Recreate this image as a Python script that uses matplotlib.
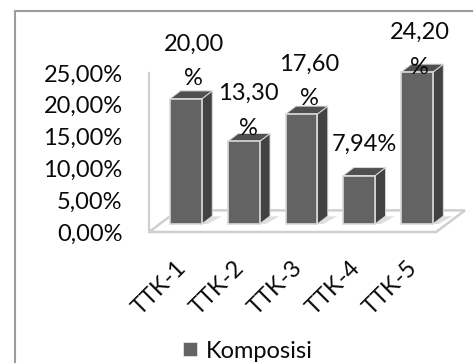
from matplotlib import pyplot as plt
from matplotlib.patches import Polygon, Rectangle
from matplotlib.lines import Line2D
from matplotlib.transforms import ScaledTranslation

categories = ['TTK-1', 'TTK-2', 'TTK-3', 'TTK-4', 'TTK-5']
komposisi = [20.00, 13.30, 17.60, 7.94, 24.20]
y_ticks = [0, 5, 10, 15, 20, 25]
series_name = 'Komposisi'

# where each value label sits relative to its bar, in points
label_offsets = [(5.5, 27), (3.5, 22), (5.5, 23.5), (3.5, 22.5), (2, 16)]

plt.rcParams['font.family'] = ['Lato', 'DejaVu Sans']
FONT = 17
W, H = 473, 363

FRONT = '#636363'
SIDE = '#424242'
TOP = '#505050'
EDGE = '#d9d9d9'
WALL = '#cfcfcf'
INK = '#0a0a0a'

# pseudo 3d depth of a bar and of the floor, in data units
BAR_W = 0.55
BAR_DX = 0.18
BAR_DY = 1.25
BASE = 1.26
LIFT = 0.94
FLOOR_DX = 0.5
FLOOR_DY = 3.4


def pct(v):
    return f'{v:.2f}%'.replace('.', ',')


def wrapped(v):
    # the narrow label stays on one line, the others break before the percent sign
    text = pct(v)
    return text if v < 10 else text.replace('%', '\n%')


fig = plt.figure(figsize=(W / 100, H / 100), dpi=100)
fig.patches.append(Rectangle((14.5 / W, -0.1), 1.1, 1.1 - 11.5 / H, transform=fig.transFigure,
                             fill=False, edgecolor='#9c9c9c', linewidth=1.5))

ax = fig.add_axes([149 / W, 1 - 232 / H, 316 / W, 159 / H])
ax.set_xlim(-0.64, 4.83)
ax.set_ylim(0, 25)
ax.patch.set_alpha(0)
for s in ax.spines.values():
    s.set_visible(False)

# floor and the left wall line
left, right = -0.64, 4.33
ax.add_patch(Polygon([(left, 0), (right, 0), (right + FLOOR_DX, FLOOR_DY), (left + FLOOR_DX, FLOOR_DY)],
                     closed=True, facecolor='white', edgecolor=WALL, linewidth=1.8, zorder=1, clip_on=False))
ax.plot([left, left], [0, 25], color=WALL, linewidth=1.6, zorder=1, clip_on=False)

x = list(range(len(categories)))
tops = [v + LIFT for v in komposisi]
heights = [t - BASE for t in tops]

for xi, t in zip(x, tops):
    r = xi + BAR_W / 2
    l = xi - BAR_W / 2
    # soft shadow on the floor
    ax.add_patch(Polygon([(r, BASE), (r + 0.17, BASE + 1.2), (r + 0.34, BASE + 1.2), (r + 0.1, BASE)],
                         closed=True, facecolor='#dedede', edgecolor='none', zorder=1.5))
    ax.add_patch(Polygon([(r, BASE), (r + BAR_DX, BASE + BAR_DY), (r + BAR_DX, t + BAR_DY), (r, t)],
                         closed=True, facecolor=SIDE, edgecolor=EDGE, linewidth=0.7, zorder=2, clip_on=False))
    ax.add_patch(Polygon([(l, t), (r, t), (r + BAR_DX, t + BAR_DY), (l + BAR_DX, t + BAR_DY)],
                         closed=True, facecolor=TOP, edgecolor=EDGE, linewidth=0.7, zorder=2, clip_on=False))

bars = ax.bar(x, heights, width=BAR_W, bottom=BASE, color=FRONT, edgecolor=EDGE, linewidth=1.2, zorder=3)
for b in bars:
    b.set_clip_on(False)

for xi, t, v, off in zip(x, tops, komposisi, label_offsets):
    ax.annotate(wrapped(v), xy=(xi, t), xytext=off, textcoords='offset points', annotation_clip=False,
                ha='center', va='center', fontsize=FONT, linespacing=1.78, color=INK, zorder=5)

ax.set_yticks(y_ticks)
ax.set_yticklabels([pct(v) for v in y_ticks], fontsize=FONT, color=INK)
ax.tick_params(axis='y', length=0, pad=19)
ax.set_xticks(x)
ax.set_xticklabels(categories, fontsize=FONT, rotation=45, ha='right', rotation_mode='anchor', color=INK)
ax.tick_params(axis='x', length=0, pad=18)

# pull the slanted names left so they end under the bar centres
shift = ScaledTranslation(-7.5 / 72, 0, fig.dpi_scale_trans)
for lab in ax.get_xticklabels():
    lab.set_transform(lab.get_transform() + shift)

handle = Line2D([], [], linestyle='none', marker='s', markersize=9.5, markerfacecolor=FRONT,
                markeredgecolor='#eeeeee', markeredgewidth=0.5)
fig.legend([handle], [series_name], loc='center', bbox_to_anchor=(248 / W, 1 - 351 / H), frameon=False,
           fontsize=FONT, handlelength=0.6, handletextpad=0.35, borderpad=0, labelcolor=INK)

fig.savefig('out.png', dpi=100)
